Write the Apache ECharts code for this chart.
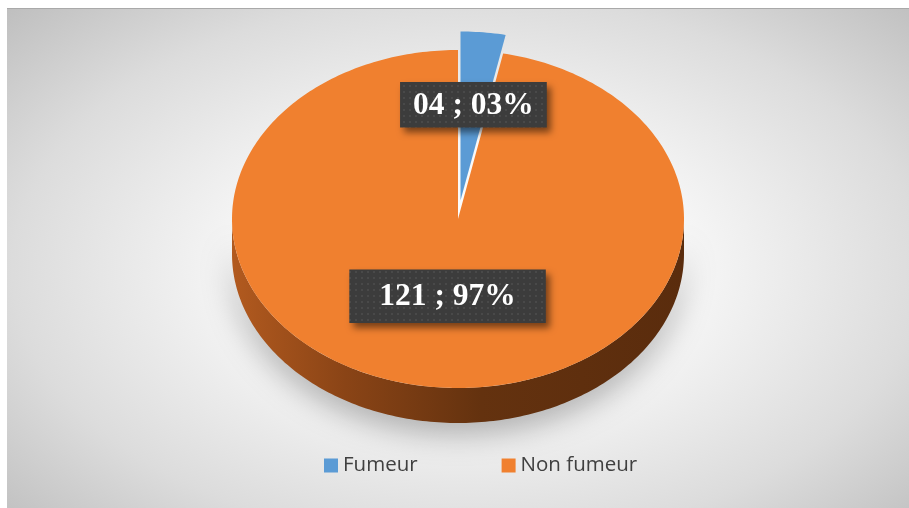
<!DOCTYPE html>
<html>
<head>
<meta charset="utf-8">
<script src="https://cdn.jsdelivr.net/npm/echarts@6/dist/echarts.min.js"></script>
<style>
  html, body { margin: 0; padding: 0; background: #ffffff; width: 909px; height: 508px; overflow: hidden; }
  #frame {
    position: absolute; left: 7px; top: 8px; width: 902px; height: 500px; box-sizing: border-box;
    border-top: 1px solid #a9a9a9;
    background: radial-gradient(ellipse 72% 78% at 51% 52%, #ffffff 0%, #f8f8f8 32%, #dcdcdc 70%, #bcbcbc 100%);
  }
  #chart { position: absolute; left: 0; top: 0; width: 909px; height: 508px; }
</style>
</head>
<body>
<div id="frame"></div>
<div id="chart"></div>
<script>
// Répartition des patients selon le tabagisme
const categories = ['Fumeur', 'Non fumeur'];
const counts = [4, 121];
const countLabels = ['04', '121'];
const percentLabels = ['03%', '97%'];
const colors = ['#5b9bd5', '#f0802f'];

// 3D pie layout (projected ellipse)
const CX = 458, CY = 219, RX = 226, RY = 169, DEPTH = 35;
const EXPLODE = [0.11, 0];
const LABEL_R = [0.57, 0.46];
const LABEL_PAD = [[7, 13], [11, 30]];
const LABEL_FONT = 'bold 31.5px "Liberation Serif"';
const LABEL_SIZE = 31.5;

const total = counts.reduce((a, b) => a + b, 0);

// dotted dark texture for the data labels
const tile = document.createElement('canvas');
tile.width = 6; tile.height = 6;
(function () {
  const c = tile.getContext('2d');
  c.fillStyle = '#3c3c3c'; c.fillRect(0, 0, 6, 6);
  c.fillStyle = '#494949'; c.fillRect(1, 1, 2, 2);
})();

const measureCtx = document.createElement('canvas').getContext('2d');
measureCtx.font = LABEL_FONT;

function pt(cx, cy, t, dy) {
  return [cx + RX * Math.sin(t), cy - RY * Math.cos(t) + (dy || 0)];
}

function renderSlice(i) {
  return function (params, api) {
    const value = api.value(0);
    let start = 0;
    for (let j = 0; j < i; j++) start += counts[j] / total * Math.PI * 2;
    const end = start + value / total * Math.PI * 2;
    const mid = (start + end) / 2;
    const k = EXPLODE[i];
    const cx = CX + RX * k * Math.sin(mid);
    const cy = CY - RY * k * Math.cos(mid);
    const children = [];

    // front wall (visible between 90° and 270°)
    const a = Math.max(start, Math.PI / 2), b = Math.min(end, Math.PI * 3 / 2);
    if (b > a) {
      const n = Math.ceil((b - a) / (Math.PI / 180));
      const wall = [];
      for (let s = 0; s <= n; s++) wall.push(pt(cx, cy, a + (b - a) * s / n));
      for (let s = n; s >= 0; s--) wall.push(pt(cx, cy, a + (b - a) * s / n, DEPTH));
      children.push({
        type: 'polygon', z2: 1,
        shape: { points: wall },
        style: {
          fill: new echarts.graphic.LinearGradient(0, 0, 1, 0, [
            { offset: 0, color: '#b25a1f' },
            { offset: 0.25, color: '#8a4416' },
            { offset: 0.55, color: '#64320f' },
            { offset: 1, color: '#5a2c0d' }
          ]),
          shadowBlur: 30, shadowOffsetY: 10, shadowColor: 'rgba(0,0,0,0.3)'
        }
      });
    }

    // top face
    const n = Math.max(8, Math.ceil((end - start) / (Math.PI / 180)));
    const top = [[cx, cy]];
    for (let s = 0; s <= n; s++) top.push(pt(cx, cy, start + (end - start) * s / n));
    children.push({
      type: 'polygon', z2: 2,
      shape: { points: top },
      style: { fill: colors[i] }
    });

    // data label
    const text = countLabels[i] + ' ; ' + percentLabels[i];
    const tw = measureCtx.measureText(text).width;
    const pad = LABEL_PAD[i];
    const bw = tw + pad[1] * 2, bh = LABEL_SIZE + pad[0] * 2;
    const lx = cx + RX * LABEL_R[i] * Math.sin(mid);
    const ly = cy - RY * LABEL_R[i] * Math.cos(mid);
    children.push({
      type: 'rect', z2: 10,
      shape: { x: lx - bw / 2, y: ly - bh / 2, width: bw, height: bh },
      style: {
        fill: { image: tile, repeat: 'repeat' },
        shadowBlur: 7, shadowOffsetX: 4, shadowOffsetY: 5, shadowColor: 'rgba(0,0,0,0.5)'
      }
    });
    children.push({
      type: 'text', z2: 11,
      x: lx, y: ly + 1,
      style: {
        text: text, font: LABEL_FONT, fill: '#ffffff',
        align: 'center', verticalAlign: 'middle'
      }
    });

    return { type: 'group', children: children };
  };
}

const chart = echarts.init(document.getElementById('chart'), null, { renderer: 'canvas' });
chart.setOption({
  animation: false,
  backgroundColor: 'transparent',
  legend: {
    data: categories,
    left: 324, top: 455, padding: 0,
    icon: 'rect', itemWidth: 14, itemHeight: 14, itemGap: 84,
    selectedMode: false,
    textStyle: { fontFamily: 'Open Sans', fontSize: 20.5, color: '#404040' }
  },
  series: categories.map((name, i) => ({
    type: 'custom',
    name: name,
    coordinateSystem: 'none',
    silent: true,
    itemStyle: { color: colors[i] },
    data: [[counts[i]]],
    renderItem: renderSlice(i)
  }))
});
</script>
</body>
</html>
